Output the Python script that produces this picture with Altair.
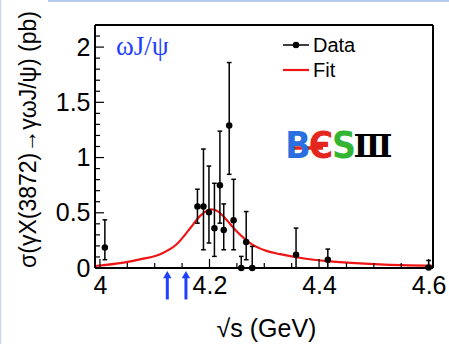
import altair as alt
import pandas as pd

# Measured cross sections sigma(e+e- -> gamma X(3872) -> gamma omega J/psi)
energy = [4.009, 4.178, 4.189, 4.199, 4.209, 4.219, 4.226, 4.236, 4.244,
          4.258, 4.267, 4.278, 4.358, 4.416, 4.600]
xsec = [0.186, 0.556, 0.556, 0.505, 0.361, 0.749, 0.343, 1.290, 0.433,
        0.0, 0.235, 0.0, 0.120, 0.075, 0.005]
xsec_low = [0.075, 0.406, 0.165, 0.226, 0.105, 0.406, 0.165, 0.848, 0.165,
            0.0, 0.075, 0.0, 0.0, 0.0, 0.0]
xsec_high = [0.436, 0.713, 1.077, 0.923, 0.767, 1.239, 0.580, 1.860, 0.803,
             0.105, 0.511, 0.195, 0.361, 0.171, 0.068]

# Fit curve
fit_energy = [3.991, 4.043, 4.075, 4.110, 4.140, 4.164, 4.183, 4.203, 4.216,
              4.231, 4.250, 4.274, 4.304, 4.329, 4.370, 4.420, 4.511, 4.608]
fit_xsec = [0.018, 0.048, 0.080, 0.125, 0.215, 0.355, 0.472, 0.532, 0.511,
            0.436, 0.330, 0.226, 0.155, 0.125, 0.088, 0.060, 0.032, 0.020]

# Threshold arrows below the axis
arrow_energy = [4.123, 4.157]

# Axis ticks
x_major = [4.0, 4.2, 4.4, 4.6]
x_minor = [4.05, 4.1, 4.15, 4.25, 4.3, 4.35, 4.45, 4.5, 4.55]
y_major = [0.0, 0.5, 1.0, 1.5, 2.0]
y_minor = [0.1, 0.2, 0.3, 0.4, 0.6, 0.7, 0.8, 0.9, 1.1, 1.2, 1.3, 1.4,
           1.6, 1.7, 1.8, 1.9, 2.1]

W, H = 338, 243
FONT = "Liberation Sans"
BLUE = "#1f40ff"
RED = "#f01414"

points = pd.DataFrame({"E": energy, "sigma": xsec, "lo": xsec_low, "hi": xsec_high})
fit = pd.DataFrame({"E": fit_energy, "sigma": fit_xsec})
arrows = pd.DataFrame({"E": arrow_energy, "sigma": [-0.06] * 2,
                       "top": [-0.07] * 2, "bottom": [-0.285] * 2})
anchor = pd.DataFrame({"k": [0]})
xt_major = pd.DataFrame({"E": x_major})
xt_minor = pd.DataFrame({"E": x_minor})
yt_major = pd.DataFrame({"sigma": y_major})
yt_minor = pd.DataFrame({"sigma": y_minor})

xs = alt.Scale(domain=[3.991, 4.608], nice=False, zero=False)
ys = alt.Scale(domain=[0, 2.2], nice=False, zero=False)

X = alt.X("E:Q", scale=xs,
          axis=alt.Axis(values=x_major, format="~g", title="√s (GeV)"))
Y = alt.Y("sigma:Q", scale=ys,
          axis=alt.Axis(values=y_major, format="~g",
                        title="σ(γX(3872)→γωJ/ψ) (pb)"))

# Fit line
fit_line = alt.Chart(fit).mark_line(color=RED, strokeWidth=2.2,
                                    interpolate="monotone").encode(x=X, y=Y)

# Inward ticks
y_major_ticks = alt.Chart(yt_major).mark_rule(color="black", strokeWidth=1.2).encode(
    y=Y, x=alt.value(0), x2=alt.value(9))
y_minor_ticks = alt.Chart(yt_minor).mark_rule(color="black", strokeWidth=1.2).encode(
    y=Y, x=alt.value(0), x2=alt.value(5))
x_major_ticks = alt.Chart(xt_major).mark_rule(color="black", strokeWidth=1.2).encode(
    x=X, y=alt.value(H), y2=alt.value(H - 9))
x_minor_ticks = alt.Chart(xt_minor).mark_rule(color="black", strokeWidth=1.2).encode(
    x=X, y=alt.value(H), y2=alt.value(H - 5))

# Data points with error bars
err_bars = alt.Chart(points).mark_rule(color="black", strokeWidth=1.5).encode(
    x=X, y=alt.Y("lo:Q", scale=ys), y2="hi:Q")
cap_hi = alt.Chart(points).mark_point(shape="M-1,0L1,0", size=22, filled=False,
                                      color="black", strokeWidth=1.5, opacity=1).encode(
    x=X, y=alt.Y("hi:Q", scale=ys))
cap_lo = alt.Chart(points).mark_point(shape="M-1,0L1,0", size=22, filled=False,
                                      color="black", strokeWidth=1.5, opacity=1).encode(
    x=X, y=alt.Y("lo:Q", scale=ys))
dots = alt.Chart(points).mark_point(shape="circle", filled=True, size=42,
                                    color="black", opacity=1).encode(x=X, y=Y)

# Arrows under the axis
arrow_shaft = alt.Chart(arrows).mark_rule(color=BLUE, strokeWidth=3).encode(
    x=X, y=alt.Y("top:Q", scale=ys), y2="bottom:Q")
arrow_head = alt.Chart(arrows).mark_point(shape="triangle-up", filled=True,
                                          size=70, color=BLUE, opacity=1).encode(
    x=X, y=Y)

# Frame around the plot area
frame_top = alt.Chart(anchor).mark_rule(color="black", strokeWidth=2).encode(
    x=alt.value(0), x2=alt.value(W), y=alt.value(0))
frame_bottom = alt.Chart(anchor).mark_rule(color="black", strokeWidth=2).encode(
    x=alt.value(0), x2=alt.value(W), y=alt.value(H))
frame_left = alt.Chart(anchor).mark_rule(color="black", strokeWidth=2).encode(
    x=alt.value(0), y=alt.value(0), y2=alt.value(H))
frame_right = alt.Chart(anchor).mark_rule(color="black", strokeWidth=2).encode(
    x=alt.value(W), y=alt.value(0), y2=alt.value(H))

# Channel label
channel = alt.Chart(anchor).mark_text(
    text="ωJ/ψ", font="Liberation Serif", fontSize=27, color=BLUE,
    align="left", baseline="middle").encode(x=alt.value(21), y=alt.value(22))

# Legend
leg_data_line = alt.Chart(anchor).mark_rule(color="black", strokeWidth=1.5).encode(
    x=alt.value(188), x2=alt.value(214), y=alt.value(20))
leg_data_dot = alt.Chart(anchor).mark_point(shape="circle", filled=True, size=42,
                                            color="black", opacity=1).encode(
    x=alt.value(201), y=alt.value(20))
leg_fit_line = alt.Chart(anchor).mark_rule(color=RED, strokeWidth=2.2).encode(
    x=alt.value(188), x2=alt.value(214), y=alt.value(45))
leg_data_txt = alt.Chart(anchor).mark_text(
    text="Data", font=FONT, fontSize=20, color="black", align="left",
    baseline="middle").encode(x=alt.value(218), y=alt.value(21))
leg_fit_txt = alt.Chart(anchor).mark_text(
    text="Fit", font=FONT, fontSize=20, color="black", align="left",
    baseline="middle").encode(x=alt.value(218), y=alt.value(46))

# Experiment logo
LOGO_FONT = "Liberation Sans Narrow, DejaVu Sans Condensed, Liberation Sans"
logo_b = alt.Chart(anchor).mark_text(
    text="B", font=LOGO_FONT, fontSize=37, fontWeight="bold", color="#2a6fe0",
    align="center", baseline="middle").encode(x=alt.value(203), y=alt.value(122))
logo_e = alt.Chart(anchor).mark_text(
    text="Є", font=LOGO_FONT, fontSize=37, fontWeight="bold", color="#e3261e",
    align="center", baseline="middle").encode(x=alt.value(226), y=alt.value(122))
logo_bar = alt.Chart(anchor).mark_rule(color="#e3261e", strokeWidth=3.5).encode(
    x=alt.value(195), x2=alt.value(228), y=alt.value(123))
logo_s = alt.Chart(anchor).mark_text(
    text="S", font=LOGO_FONT, fontSize=37, fontWeight="bold", color="#33b533",
    align="center", baseline="middle").encode(x=alt.value(249), y=alt.value(122))
logo_iii = alt.Chart(anchor).mark_text(
    text="Ⅲ", font="DejaVu Serif", fontSize=32, fontWeight="bold", color="black",
    align="center", baseline="middle").encode(x=alt.value(278), y=alt.value(122))

# Light page border
border_top = alt.Chart(anchor).mark_rule(color="#b4cdee", strokeWidth=2).encode(
    x=alt.value(-47), x2=alt.value(W + 16), y=alt.value(-24))
border_left = alt.Chart(anchor).mark_rule(color="#c8d8ec", strokeWidth=1.5).encode(
    x=alt.value(-94.5), y=alt.value(-25), y2=alt.value(H + 76))

chart = alt.layer(
    fit_line, y_major_ticks, y_minor_ticks, x_major_ticks, x_minor_ticks,
    err_bars, cap_hi, cap_lo, dots, arrow_shaft, arrow_head,
    frame_top, frame_bottom, frame_left, frame_right, channel,
    leg_data_line, leg_data_dot, leg_fit_line, leg_data_txt, leg_fit_txt,
    logo_bar, logo_b, logo_e, logo_s, logo_iii, border_top, border_left,
).properties(
    width=W, height=H,
    autosize=alt.AutoSizeParams(type="none"),
    padding={"left": 95, "top": 25, "right": 16, "bottom": 76},
    background="white",
).configure_view(
    stroke=None
).configure_axisX(
    labelFont=FONT, labelFontSize=25, labelColor="black", labelPadding=5,
    labelFlush=False, ticks=False, tickSize=0, domain=False, grid=False,
    titleFont=FONT, titleFontSize=25, titleFontWeight="normal",
    titleColor="black", titleX=171, titleY=60, titleAlign="center",
    titleBaseline="middle",
).configure_axisY(
    labelFont=FONT, labelFontSize=25, labelColor="black", labelPadding=5,
    labelBaseline="middle", labelFlush=False, ticks=False, tickSize=0,
    domain=False, grid=False, titleFont=FONT, titleFontSize=23,
    titleFontWeight="normal", titleColor="black", titleAngle=270,
    titleX=-67, titleY=114, titleAlign="center", titleBaseline="middle",
)

chart.save("out.html", embed_options={"renderer": "svg", "actions": False})
